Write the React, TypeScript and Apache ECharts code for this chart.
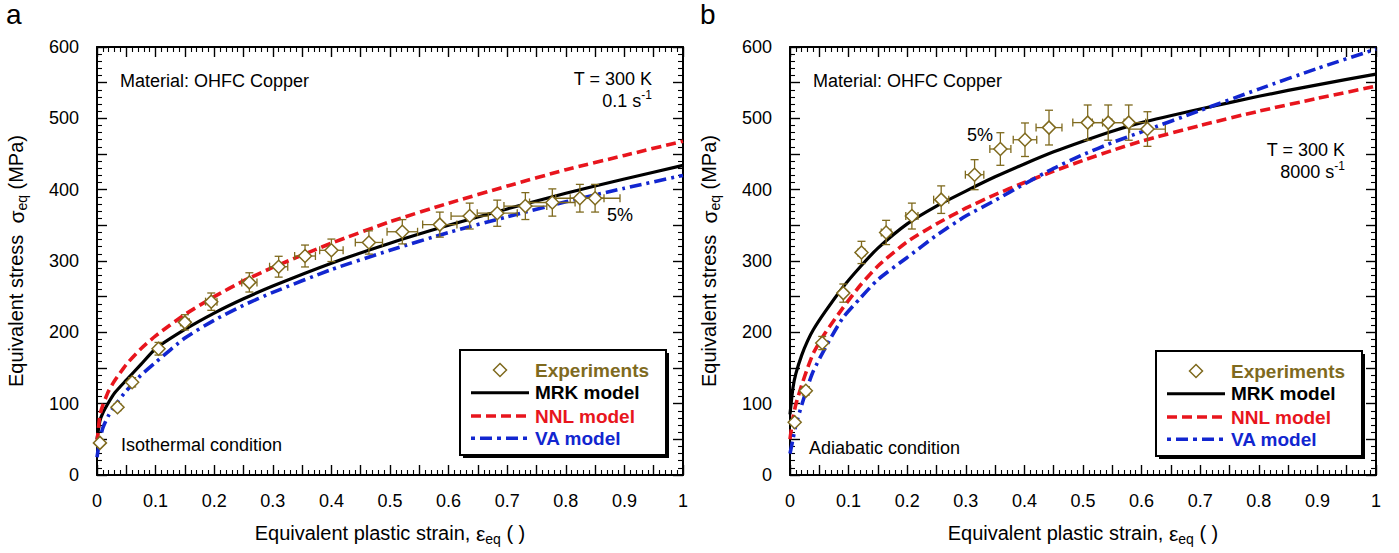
import React, { useEffect, useRef } from 'react';
import * as echarts from 'echarts';

const FONT = "'Liberation Sans', Arial, Helvetica, sans-serif";
const OLIVE = '#7f6a1e';
const RED = '#e8151d';
const BLUE = '#1226d0';
const ERR = 0.05; // 5% error bars (as labelled on the chart)

const X_MIN = 0;
const X_MAX = 1;
const Y_MIN = 0;
const Y_MAX = 600;

// Panel a: isothermal, 0.1 s^-1
const isoStrain = [0.005, 0.035, 0.06, 0.105, 0.15, 0.195, 0.26, 0.31, 0.355, 0.4, 0.464, 0.521, 0.585, 0.636, 0.683, 0.731, 0.777, 0.824, 0.85];
const isoStress = [45, 95, 130, 177, 214, 243, 270, 292, 307, 315, 326, 341, 351, 363, 367, 377, 382, 388, 388];
const isoModelStrain = [0, 0.005, 0.01, 0.02, 0.03, 0.05, 0.075, 0.1, 0.15, 0.2, 0.25, 0.3, 0.4, 0.5, 0.6, 0.7, 0.8, 0.9, 1.0];
const isoMRK = [50, 76, 87, 102, 115, 133, 155, 177, 204, 227, 247, 265, 297, 325, 350, 373, 395, 415, 434];
const isoNNL = [45, 84, 98, 118, 132, 155, 177, 195, 225, 250, 272, 291, 325, 355, 381, 405, 428, 448, 468];
const isoVA = [25, 50, 66, 84, 97, 118, 140, 158, 192, 217, 238, 256, 288, 315, 340, 362, 383, 402, 420];

// Panel b: adiabatic, 8000 s^-1
const adiStrain = [0.008, 0.027, 0.055, 0.091, 0.122, 0.164, 0.208, 0.258, 0.315, 0.359, 0.401, 0.442, 0.508, 0.543, 0.578, 0.61];
const adiStress = [74, 118, 185, 255, 312, 340, 363, 386, 421, 457, 470, 487, 494, 494, 494, 485];
const adiModelStrain = [0, 0.005, 0.01, 0.02, 0.03, 0.04, 0.06, 0.09, 0.12, 0.15, 0.2, 0.25, 0.3, 0.35, 0.4, 0.45, 0.5, 0.55, 0.6, 0.7, 0.8, 0.9, 1.0];
const adiMRK = [85, 122, 142, 168, 188, 204, 229, 263, 292, 318, 352, 377, 398, 418, 436, 453, 468, 482, 494, 513, 531, 547, 562];
const adiNNL = [50, 80, 99, 126, 150, 171, 199, 234, 266, 293, 327, 352, 374, 393, 410, 426, 441, 455, 468, 490, 510, 528, 545];
const adiVA = [30, 50, 70, 98, 124, 146, 178, 220, 248, 274, 305, 336, 363, 385, 408, 430, 449, 466, 481, 511, 541, 570, 597];

const LEGEND_NAMES = ['Experiments', 'MRK model', 'NNL model', 'VA model'];
const LEGEND_COLORS = [OLIVE, '#000', RED, BLUE];

const GRIDS = [
  { left: 97, top: 47, width: 586, height: 428 },
  { left: 790, top: 47, width: 586, height: 428 },
];

const pairs = (xs: number[], ys: number[]) => xs.map((x, i) => [x, ys[i]]);

const xFormatter = (v: number) => {
  const r = Math.round(v * 100);
  if (r % 10 !== 0) return '';
  return String(r / 100);
};
const yFormatter = (v: number) => (Math.round(v) % 100 === 0 ? String(Math.round(v)) : '');

const tickCommon = {
  axisLine: { show: true, onZero: false, lineStyle: { color: '#000', width: 2 } },
  axisTick: { show: true, inside: true, length: 10, lineStyle: { color: '#000', width: 1.4 } },
  minorTick: { show: true, splitNumber: 5, length: 5, lineStyle: { color: '#000', width: 1.1 } },
  splitLine: { show: false },
  minorSplitLine: { show: false },
};

const titleRich = {
  n: { fontSize: 20, fontFamily: FONT, color: '#000', lineHeight: 22 },
  g: { fontSize: 21, fontFamily: FONT, color: '#000', lineHeight: 22 },
  s: { fontSize: 14, fontFamily: FONT, color: '#000', lineHeight: 14, padding: [12, 0, 0, 0] },
};

function xAxes(g: number) {
  return [
    {
      gridIndex: g, type: 'value', min: X_MIN, max: X_MAX, interval: 0.05, position: 'bottom',
      ...tickCommon,
      axisLabel: { show: true, margin: 17, fontSize: 18, color: '#000', fontFamily: FONT, formatter: xFormatter },
      name: '{n|Equivalent plastic strain, }{g|ε}{s|eq}{n| ( )}',
      nameLocation: 'middle', nameGap: 47,
      nameTextStyle: { rich: titleRich },
    },
    {
      gridIndex: g, type: 'value', min: X_MIN, max: X_MAX, interval: 0.05, position: 'top',
      ...tickCommon,
      axisLabel: { show: false },
    },
  ];
}

function yAxes(g: number) {
  return [
    {
      gridIndex: g, type: 'value', min: Y_MIN, max: Y_MAX, interval: 50, position: 'left',
      ...tickCommon,
      axisLabel: { show: true, margin: 18, fontSize: 18, color: '#000', fontFamily: FONT, formatter: yFormatter },
      name: '{n|Equivalent stress  }{g|σ}{s|eq}{n| (MPa)}',
      nameLocation: 'middle', nameGap: 70,
      nameTextStyle: { rich: titleRich },
    },
    {
      gridIndex: g, type: 'value', min: Y_MIN, max: Y_MAX, interval: 50, position: 'right',
      ...tickCommon,
      axisLabel: { show: false },
    },
  ];
}

function lineSeries(name: string, axis: number, xs: number[], ys: number[], color: string, type: any, width: number, z: number) {
  return {
    name, type: 'line', xAxisIndex: axis, yAxisIndex: axis,
    data: pairs(xs, ys), symbol: 'none', showSymbol: false,
    smooth: 0.2,
    lineStyle: { color, width, type, cap: 'butt' },
    itemStyle: { color },
    z,
  };
}

function errorBars(axis: number, xs: number[], ys: number[]) {
  return {
    type: 'custom', xAxisIndex: axis, yAxisIndex: axis, silent: true, z: 5,
    data: xs.map((x, i) => [x, ys[i], x * ERR, ys[i] * ERR]),
    renderItem: (_params: any, api: any) => {
      const x = api.value(0), y = api.value(1), ex = api.value(2), ey = api.value(3);
      const c = api.coord([x, y]);
      const l = api.coord([x - ex, y]);
      const r = api.coord([x + ex, y]);
      const t = api.coord([x, y + ey]);
      const b = api.coord([x, y - ey]);
      const cap = 4;
      const st = { stroke: OLIVE, lineWidth: 1.3 };
      const ln = (x1: number, y1: number, x2: number, y2: number) => ({ type: 'line', shape: { x1, y1, x2, y2 }, style: st });
      return {
        type: 'group',
        children: [
          ln(l[0], c[1], r[0], c[1]),
          ln(l[0], c[1] - cap, l[0], c[1] + cap),
          ln(r[0], c[1] - cap, r[0], c[1] + cap),
          ln(c[0], t[1], c[0], b[1]),
          ln(c[0] - cap, t[1], c[0] + cap, t[1]),
          ln(c[0] - cap, b[1], c[0] + cap, b[1]),
        ],
      };
    },
  };
}

function scatter(axis: number, xs: number[], ys: number[]) {
  return {
    name: 'Experiments', type: 'scatter', xAxisIndex: axis, yAxisIndex: axis,
    data: pairs(xs, ys), symbol: 'diamond', symbolSize: 13,
    itemStyle: { color: '#fff', borderColor: OLIVE, borderWidth: 1.5, opacity: 1 },
    z: 6,
  };
}

function panelSeries(axis: number, ms: number[], mrk: number[], nnl: number[], va: number[], es: number[], ev: number[]) {
  return [
    lineSeries('MRK model', axis, ms, mrk, '#000', 'solid', 3.2, 2),
    lineSeries('NNL model', axis, ms, nnl, RED, [10, 5], 3.6, 3),
    lineSeries('VA model', axis, ms, va, BLUE, [12, 5, 3, 5], 3.6, 4),
    errorBars(axis, es, ev),
    scatter(axis, es, ev),
  ];
}

// Legend box (diamond + line samples) matching the original layout
function legendGraphic(left: number, top: number) {
  const w = 206, h = 105;
  const rows = [20, 42.7, 66, 88.3];
  const sx1 = left + 11, sx2 = left + 69, tx = left + 75;
  const cx = (sx1 + sx2) / 2;
  const items: any[] = [
    { type: 'rect', shape: { x: left + 3, y: top + 3, width: w, height: h }, style: { fill: '#000' }, z: 90 },
    { type: 'rect', shape: { x: left, y: top, width: w, height: h }, style: { fill: '#fff', stroke: '#000', lineWidth: 2 }, z: 91 },
    {
      type: 'polygon', z: 92,
      shape: { points: [[cx, top + rows[0] - 6.5], [cx + 6.5, top + rows[0]], [cx, top + rows[0] + 6.5], [cx - 6.5, top + rows[0]]] },
      style: { fill: '#fff', stroke: OLIVE, lineWidth: 1.5 },
    },
    { type: 'line', z: 92, shape: { x1: sx1, y1: top + rows[1], x2: sx2, y2: top + rows[1] }, style: { stroke: '#000', lineWidth: 3 } },
    { type: 'line', z: 92, shape: { x1: sx1, y1: top + rows[2], x2: sx2, y2: top + rows[2] }, style: { stroke: RED, lineWidth: 3.6, lineDash: [10, 5] } },
    { type: 'line', z: 92, shape: { x1: sx1, y1: top + rows[3], x2: sx2, y2: top + rows[3] }, style: { stroke: BLUE, lineWidth: 3.6, lineDash: [4, 5, 12, 5] } },
  ];
  LEGEND_NAMES.forEach((n, i) => {
    items.push({
      type: 'text', x: tx, y: top + rows[i], z: 93,
      style: {
        text: n, fill: LEGEND_COLORS[i], font: `bold 19px ${FONT}`, fontSize: 19, fontWeight: 'bold', fontFamily: FONT,
        textAlign: 'left', verticalAlign: 'middle', textVerticalAlign: 'middle',
      },
    });
  });
  return items;
}

const txt = (x: number, y: number, text: string, align: string, size = 18, rich?: any, valign = 'middle') => ({
  type: 'text', x, y, z: 100,
  style: {
    text, fill: '#000', font: `${size}px ${FONT}`, fontSize: size, fontFamily: FONT,
    textAlign: align, verticalAlign: valign, textVerticalAlign: valign, rich,
  },
});

const supRich = {
  a: { fontSize: 18, fontFamily: FONT, fill: '#000', color: '#000', lineHeight: 20 },
  b: { fontSize: 12, fontFamily: FONT, fill: '#000', color: '#000', lineHeight: 12, padding: [0, 0, 12, 0] },
};

const option: any = {
  animation: false,
  backgroundColor: '#fff',
  grid: GRIDS,
  xAxis: [...xAxes(0), ...xAxes(1)],
  yAxis: [...yAxes(0), ...yAxes(1)],
  series: [
    ...panelSeries(0, isoModelStrain, isoMRK, isoNNL, isoVA, isoStrain, isoStress),
    ...panelSeries(2, adiModelStrain, adiMRK, adiNNL, adiVA, adiStrain, adiStress),
  ],
  graphic: [
    txt(6, 0, 'a', 'left', 28, undefined, 'top'),
    txt(700, 0, 'b', 'left', 28, undefined, 'top'),
    txt(120, 81, 'Material: OHFC Copper', 'left'),
    txt(652, 79, 'T = 300 K', 'right'),
    txt(652, 101, '{a|0.1 s}{b|-1}', 'right', 18, supRich),
    txt(607, 215, '5%', 'left'),
    txt(121, 445, 'Isothermal condition', 'left'),
    txt(813, 81, 'Material: OHFC Copper', 'left'),
    txt(1345, 150, 'T = 300 K', 'right'),
    txt(1345, 172, '{a|8000 s}{b|-1}', 'right', 18, supRich),
    txt(967, 135, '5%', 'left'),
    txt(809, 448, 'Adiabatic condition', 'left'),
    ...legendGraphic(460, 350),
    ...legendGraphic(1156, 351),
  ],
};

export default function App() {
  const ref = useRef<HTMLDivElement>(null);
  useEffect(() => {
    const chart = echarts.init(ref.current!, null, { renderer: 'svg' });
    chart.setOption(option);
    return () => chart.dispose();
  }, []);
  return (
    <div
      ref={ref}
      style={{ position: 'fixed', left: 0, top: 0, width: 1399, height: 553, background: '#fff' }}
    />
  );
}
